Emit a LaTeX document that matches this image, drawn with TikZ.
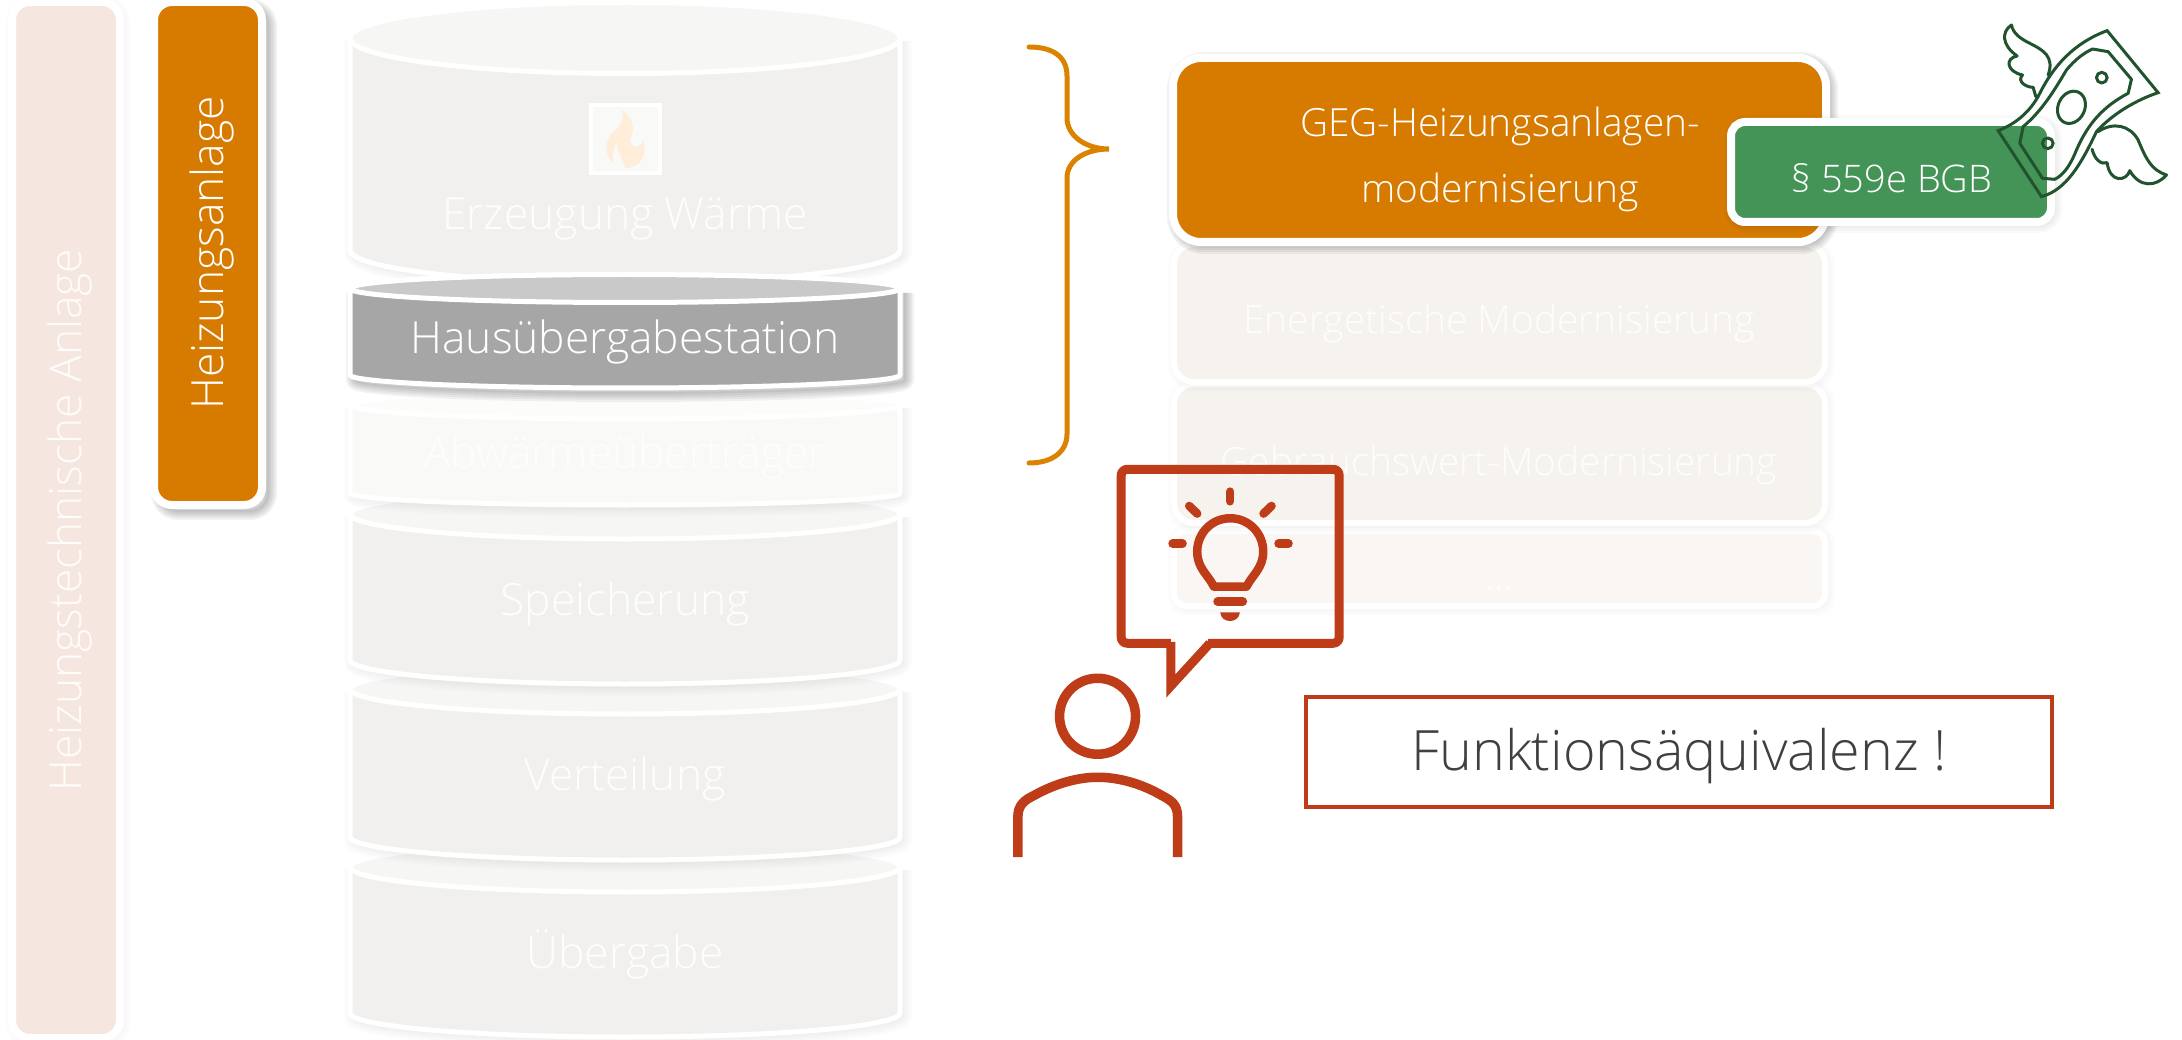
\documentclass[tikz,border=0pt]{standalone}
\usepackage{fontspec}
\setmainfont{Open Sans}[UprightFont=* Light]
\definecolor{orng}{HTML}{D67B00}
\definecolor{brc}{HTML}{DB8300}
\definecolor{grn}{HTML}{459457}
\definecolor{dgrn}{HTML}{21532F}
\definecolor{rst}{HTML}{BE3D18}
\definecolor{lbar}{HTML}{F5E7DF}
\definecolor{cbody}{HTML}{F1F0EE}
\definecolor{ctop}{HTML}{F6F6F4}
\definecolor{fbody}{HTML}{F9F9F8}
\definecolor{ftop}{HTML}{FCFCFB}
\definecolor{mbox}{HTML}{F6F2EE}
\definecolor{mbox2}{HTML}{F9F6F3}
\definecolor{dtxt}{HTML}{404040}
\tikzset{
  whitelabel/.style={text=white,inner sep=0pt,anchor=base,font=\fontsize{#1}{#1}\selectfont},
  fadedlabel/.style={text=white,opacity=.9,inner sep=0pt,anchor=base,font=\fontsize{#1}{#1}\selectfont},
  hand/.style={draw=rst,line width=9pt,line join=round,fill=none},
  ray/.style={draw=rst,line width=8.5pt,line cap=round},
  money/.style={draw=dgrn,line width=3pt,line join=round,line cap=round,fill=none},
}
\newcommand{\softshadow}[3]{%
  \foreach \wd in {18,14,10,6,2}{%
    \draw[black,opacity=#3,line width=\wd pt,line join=round,xshift=#2pt,yshift=-#2pt] #1;}%
}
\newcommand{\cylshadow}[5]{%
  \softshadow{(350,#1) -- (350,#2) arc[start angle=180,end angle=0,x radius=275,y radius=#3] -- (900,#1)}{#4}{#5}%
}
\newcommand{\cyl}[6]{%
  \draw[white,line width=5pt,fill=#5,line join=round]
    (350,#1) -- (350,#2) arc[start angle=180,end angle=0,x radius=275,y radius=#4]
    -- (900,#1) arc[start angle=0,end angle=-180,x radius=275,y radius=#3] -- cycle;
  \draw[white,line width=5pt,fill=#6] (625,#1) ellipse[x radius=275,y radius=#3];
}
\begin{document}
\begin{tikzpicture}[x=1pt,y=-1pt]
\useasboundingbox (0,0) rectangle (2182,1040);
\fill[white] (0,0) rectangle (2182,1040);

% left bars
\softshadow{[rounded corners=18pt] (12,2) rectangle (120,1038)}{2}{.008}
\draw[white,line width=8pt,fill=lbar,rounded corners=18pt] (12,2) rectangle (120,1038);
\softshadow{[rounded corners=18pt] (154,2) rectangle (262,505)}{6}{.05}
\draw[white,line width=8pt,fill=orng,rounded corners=18pt] (154,2) rectangle (262,505);
\node[fadedlabel=44.3,rotate=90] (lefttext) at (81,520) {Heizungstechnische Anlage};
\node[whitelabel=44.3,rotate=90] (heiz) at (223,253) {Heizungsanlage};

% cylinders
\cylshadow{38}{250}{33}{3}{.012}
\cyl{38}{250}{35.5}{33}{cbody}{ctop}
\cylshadow{867}{1013}{24}{3}{.012}
\cyl{867}{1013}{25}{24}{cbody}{ctop}
\cylshadow{689}{837}{23}{3}{.012}
\cyl{689}{837}{25}{23}{cbody}{ctop}
\cylshadow{514}{660}{24}{3}{.012}
\cyl{514}{660}{25}{24}{cbody}{ctop}
\cylshadow{405}{493}{12}{3}{.012}
\cyl{405}{493}{14}{12}{fbody}{ftop}
\cylshadow{288}{375}{13}{5}{.05}
\cyl{288.5}{375}{14}{13}{black!35}{black!21}

% flame icon
\draw[white,line width=4.5pt,fill=fbody] (591,105) rectangle (660,173);
\fill[orange!15!white]
  (622,110) .. controls (634,118) and (635,130) .. (630,140)
  .. controls (630,148) and (640,150) .. (643,141)
  .. controls (648,155) and (640,168) .. (625,168)
  .. controls (624,158) and (615,152) .. (618,141)
  .. controls (612,147) and (612,157) .. (614,164)
  .. controls (606,158) and (604,145) .. (610,136)
  .. controls (616,128) and (626,124) .. (622,110) -- cycle;

\node[fadedlabel=44.3] (erz) at (625,230) {Erzeugung Wärme};
\node[whitelabel=44.3] (haus) at (625,354) {Hausübergabestation};
\node[text=white,opacity=.8,inner sep=0pt,anchor=base,font=\fontsize{44.3}{44.3}\selectfont] (abw) at (625,468) {Abwärmeüberträger};
\node[fadedlabel=44.3] (spei) at (625,615) {Speicherung};
\node[fadedlabel=44.3] (vert) at (625,790) {Verteilung};
\node[fadedlabel=44.3] (ueb) at (625,968) {Übergabe};

% brace
\draw[brc,line width=5pt,line cap=round] (1029,47)
  .. controls (1052,47) and (1067,56) .. (1067,76)
  -- (1067,118) .. controls (1067,136) and (1086,149) .. (1109,149)
  .. controls (1086,149) and (1067,160) .. (1067,178)
  -- (1067,434) .. controls (1067,452) and (1052,463) .. (1029,463);

% right boxes
\softshadow{[rounded corners=12pt] (1174,531) rectangle (1825,606)}{2}{.006}
\draw[white,line width=6pt,fill=mbox2,rounded corners=12pt] (1174,531) rectangle (1825,606);
\softshadow{[rounded corners=20pt] (1174,384) rectangle (1825,523)}{2}{.006}
\draw[white,line width=6pt,fill=mbox,rounded corners=20pt] (1174,384) rectangle (1825,523);
\softshadow{[rounded corners=20pt] (1174,244) rectangle (1825,382)}{2}{.006}
\draw[white,line width=6pt,fill=mbox,rounded corners=20pt] (1174,244) rectangle (1825,382);
\softshadow{[rounded corners=28pt] (1173,58) rectangle (1826,242)}{3}{.05}
\draw[white,line width=8pt,fill=orng,rounded corners=28pt] (1173,58) rectangle (1826,242);
\node[fadedlabel=38.8] (ene) at (1499,334) {Energetische Modernisierung};
\node[fadedlabel=38.8] (geb) at (1499,475) {Gebrauchswert-Modernisierung};
\node[fadedlabel=38.8] (dots) at (1499,589) {...};
\node[whitelabel=38.8] (geg1) at (1500,137) {GEG-Heizungsanlagen-};
\node[whitelabel=38.8] (geg2) at (1500,203) {modernisierung};

% green box
\softshadow{[rounded corners=14pt] (1731,122) rectangle (2051,222)}{2}{.02}
\draw[white,line width=8pt,fill=grn,rounded corners=14pt] (1731,122) rectangle (2051,222);
\node[whitelabel=38] (par) at (1892,193) {§ 559e BGB};

% flying money
\begin{scope}[x=.3333pt,y=-.3333pt,shift={(5040,0)}]
  \draw[money,line cap=butt,miter limit=10,line join=miter]
    (955,392) -- (1085,590) .. controls (1160,570) and (1205,490) .. (1250,395)
    .. controls (1300,340) and (1370,300) .. (1435,278)
    -- (1282,92) .. controls (1180,130) and (1120,200) .. (1080,280)
    .. controls (1050,340) and (1000,375) .. (955,392) -- cycle;
  \draw[money] (1238,147) -- (1285,155) -- (1355,238) -- (1345,280)
    .. controls (1270,320) and (1225,370) .. (1190,450)
    .. controls (1170,500) and (1150,525) .. (1125,538)
    -- (1088,535) -- (1020,430) -- (1030,380)
    .. controls (1090,330) and (1130,260) .. (1160,210)
    .. controls (1185,180) and (1210,160) .. (1238,147) -- cycle;
  \draw[money] (1175,322) ellipse[x radius=40,y radius=50,rotate=-25];
  \draw[money] (1266,233) circle[radius=16];
  \draw[money] (1104,430) circle[radius=16];
  \draw[money] (1105,225) .. controls (1125,170) and (1090,150) .. (1050,130)
    .. controls (1020,115) and (1000,100) .. (995,75)
    .. controls (965,95) and (965,135) .. (1012,168)
    .. controls (975,175) and (980,215) .. (1028,225)
    .. controls (1010,245) and (1040,262) .. (1060,262)
    -- (1068,290);
  \draw[money] (1255,395) .. controls (1300,365) and (1350,375) .. (1375,420)
    .. controls (1400,480) and (1415,510) .. (1460,525)
    .. controls (1430,560) and (1380,565) .. (1350,512)
    .. controls (1340,545) and (1290,550) .. (1282,488)
    .. controls (1265,495) and (1245,480) .. (1237,448);
\end{scope}

% person with speech bubble
\begin{scope}[x=.3333pt,y=-.3333pt,shift={(2970,1320)}]
  \draw[hand,line width=9pt,rounded corners=6pt,miter limit=10]
    (543,610) -- (394,610) -- (394,88) -- (1048,88) -- (1048,610) -- (655,610);
  \draw[hand,line width=9pt,line join=miter,miter limit=20] (660,610) -- (543,738) -- (543,606);
  \draw[hand,line width=9.5pt] (323,829) circle[radius=114];
  \draw[hand,line width=9.5pt,line cap=butt]
    (84,1252) -- (84,1130) .. controls (84,1095) and (105,1080) .. (130,1068)
    .. controls (200,1028) and (270,1012) .. (323,1012)
    .. controls (380,1012) and (450,1028) .. (518,1068)
    .. controls (545,1082) and (563,1095) .. (563,1130) -- (563,1252);
  \draw[hand,line width=8.5pt] (672,440)
    .. controls (655,405) and (622,385) .. (622,335)
    .. controls (622,280) and (665,235) .. (721,235)
    .. controls (777,235) and (820,280) .. (820,335)
    .. controls (820,385) and (787,405) .. (770,440) -- cycle;
  \draw[ray] (683,485) -- (759,485);
  \fill[rst] (691,517) -- (750,517) .. controls (748,552) and (693,552) .. (691,517) -- cycle;
  \draw[ray] (721,155) -- (721,184);
  \draw[ray] (548,311) -- (578,311);
  \draw[ray] (866,311) -- (896,311);
  \draw[ray] (598,198) -- (622,221);
  \draw[ray] (845,198) -- (821,221);
\end{scope}

% Funktionsaequivalenz
\node[draw=rst,line width=4pt,minimum width=746pt,minimum height=110pt,inner sep=0pt] (fkt) at (1679,752) {};
\node[text=dtxt,inner sep=0pt,anchor=base,font=\fontsize{55.6}{55.6}\selectfont] (fkttext) at (1679,770) {Funktionsäquivalenz !};
\end{tikzpicture}
\end{document}
